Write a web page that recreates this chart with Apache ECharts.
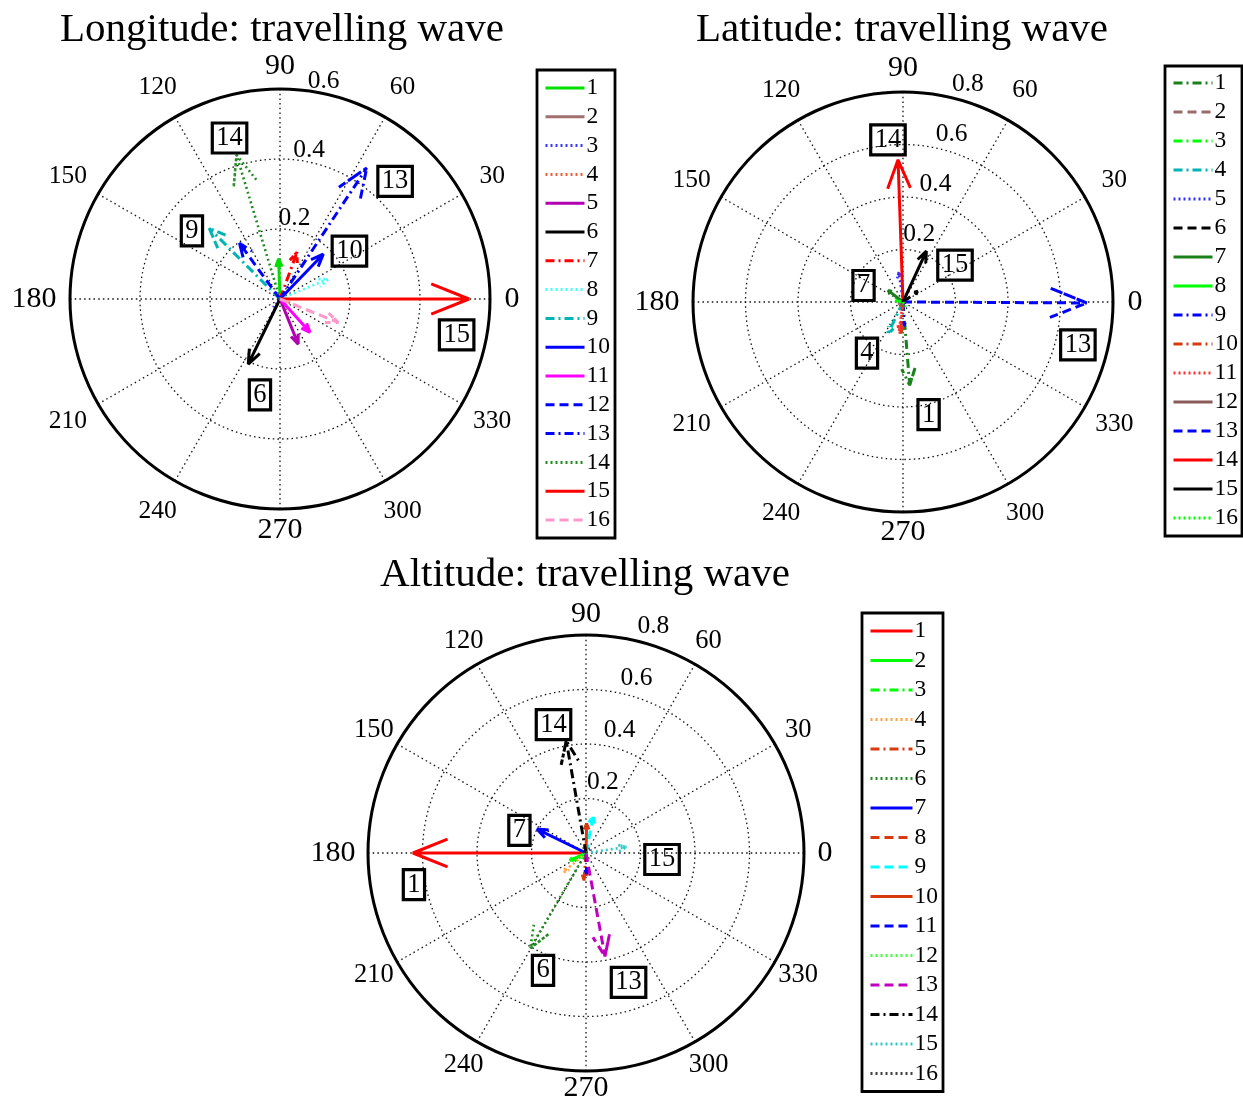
<!DOCTYPE html>
<html>
<head>
<meta charset="utf-8">
<script src="https://cdn.jsdelivr.net/npm/echarts@6/dist/echarts.min.js"></script>
<style>html,body{margin:0;padding:0;background:#fff}#c{width:1243px;height:1099px}</style>
</head>
<body>
<div id="c"></div>
<script>
// ---------- data ----------
const seriesLabels = ['1','2','3','4','5','6','7','8','9','10','11','12','13','14','15','16'];
const angleTicks = [0, 30, 60, 90, 120, 150, 180, 210, 240, 270, 300, 330];

// Longitude: magnitude and phase angle (deg)
const lonMag = [0.115, 0.02, 0.03, 0.03, 0.139, 0.207, 0.142, 0.149, 0.286, 0.178, 0.128, 0.197, 0.449, 0.43, 0.54, 0.18];
const lonAng = [92, 120, 232, 340, 292, 244, 70, 22.5, 135, 46, 312, 126, 56.5, 106.8, 0, 338];

// Latitude
const latMag = [0.318, 0.02, 0.04, 0.134, 0.115, 0.07, 0.072, 0.03, 0.092, 0.12, 0.11, 0.02, 0.70, 0.542, 0.213, 0.02];
const latAng = [274.6, 200, 150, 244.7, 98, 35.5, 142, 170, 272, 265, 262, 240, 359.7, 92, 65.3, 300];

// Altitude
const altMag = [0.635, 0.065, 0.05, 0.109, 0.1, 0.405, 0.2, 0.08, 0.14, 0.108, 0.076, 0.03, 0.386, 0.418, 0.15, 0.02];
const altAng = [180, 204.5, 215, 220, 266, 239.7, 154, 272, 79, 88.7, 272, 230, 280.4, 100, 8.4, 45];

// boxed annotations: series label, radius, angle
const lonNotes = [['14', 0.482, 107.4], ['13', 0.470, 45.6], ['9', 0.318, 142.3], ['10', 0.241, 34.6], ['15', 0.515, 348.5], ['6', 0.280, 258.2]];
const latNotes = [['14', 0.62, 95.3], ['15', 0.243, 35.4], ['7', 0.163, 157.3], ['4', 0.238, 234.8], ['13', 0.686, 346.2], ['1', 0.44, 282.8]];
const altNotes = [['14', 0.486, 104.2], ['7', 0.258, 161.3], ['15', 0.28, 355.1], ['1', 0.642, 190.4], ['6', 0.459, 249.9], ['13', 0.50, 288.2]];

// radial tick labels
const lonRTicks = [0.2, 0.4, 0.6];
const latRTicks = [0.2, 0.4, 0.6, 0.8];
const altRTicks = [0.2, 0.4, 0.6, 0.8];

const titles = ['Longitude: travelling wave', 'Latitude: travelling wave', 'Altitude: travelling wave'];

// ---------- styles ----------
const lonColors = ['#00e000','#a07070','#3a3aff','#e8603c','#b000b0','#000000','#ff0000','#40ffff','#00b4b4','#0000ff','#ff00ff','#0000ff','#0000ff','#228b22','#ff0000','#ff99cc'];
const lonDash   = ['solid','solid','dotted','dotted','solid','solid','dashdot','dotted','dashdot','solid','solid','dashed','dashdot','dotted','solid','dashed'];
const latColors = ['#1a801a','#9a6b6b','#00ff00','#00b4b4','#3030ff','#000000','#1a801a','#00ff00','#0000ff','#d83a10','#ff3030','#8b5a5a','#0000ff','#ff0000','#000000','#00ff00'];
const latDash   = ['dashdot','dashed','dashdot','dashdot','dotted','dashed','solid','solid','dashdot','dashdot','dotted','solid','dashed','solid','solid','dotted'];
const altColors = ['#ff0000','#00ff00','#00ff00','#ffa040','#d83a10','#228b22','#0000ff','#d83a10','#00ffff','#d83a10','#0000ff','#40ff40','#c000c0','#000000','#30c8c8','#404040'];
const altDash   = ['solid','solid','dashdot','dotted','dashdot','dotted','solid','dashed','dashed','solid','dashed','dotted','dashed','dashdot','dotted','dotted'];

const FONT = "'Liberation Serif', 'DejaVu Serif', serif";
const dashMap = { solid: 'solid', dashed: [9, 5], dotted: [2, 3], dashdot: [9, 4, 2, 4] };
const gridDots = { color: '#111', width: 1.3, type: [1.5, 3.2] };

// MATLAB compass-style arrow: shaft + head at 0.8 along, +/-0.08 across (in data units)
function arrowData(m, a) {
  const hr = Math.hypot(0.8, 0.08) * m;
  const da = Math.atan2(0.08, 0.8) * 180 / Math.PI;
  const n = x => ((x % 360) + 360) % 360;
  return [[0, n(a)], [m, n(a)], [hr, n(a + da)], [m, n(a)], [hr, n(a - da)]];
}

const panels = [
  { key: 'lon', mag: lonMag, ang: lonAng, colors: lonColors, dash: lonDash, notes: lonNotes, rticks: lonRTicks, rmax: 0.6,
    center: [280, 299], radius: 210, tickAng: 78, tickDist: -1, gapMinor: 35, gapCard: { 0: 22, 90: 23, 180: 36, 270: 21 }, minorSize: 25.5,
    legend: { left: 537, top: 70, itemWidth: 39, itemGap: 4.8, padding: [6, 5, 6, 7] } },
  { key: 'lat', mag: latMag, ang: latAng, colors: latColors, dash: latDash, notes: latNotes, rticks: latRTicks, rmax: 0.8,
    center: [903, 302], radius: 210, tickAng: 72, tickDist: 5, gapMinor: 34, gapCard: { 0: 22, 90: 24, 180: 36, 270: 20 }, minorSize: 25.5,
    legend: { left: 1165, top: 66, itemWidth: 39, itemGap: 5.0, padding: [5, 4, 6, 7] } },
  { key: 'alt', mag: altMag, ang: altAng, colors: altColors, dash: altDash, notes: altNotes, rticks: altRTicks, rmax: 0.8,
    center: [586, 853], radius: 218, tickAng: 72, tickDist: 6, gapMinor: 27, gapCard: { 0: 21, 90: 21, 180: 35, 270: 17 }, minorSize: 26.5,
    legend: { left: 862, top: 613, itemWidth: 42, itemGap: 5.5, padding: [6, 5, 6, 7] } }
];
const titlePos = [[282, 10], [902, 10], [585, 555]];

const option = {
  backgroundColor: '#fff',
  animation: false,
  title: titles.map((t, i) => ({
    text: t, left: titlePos[i][0], top: titlePos[i][1], textAlign: 'center', padding: 0,
    textStyle: { fontFamily: FONT, fontSize: 41, fontWeight: 'normal', color: '#000' }
  })),
  polar: panels.map(p => ({ center: p.center, radius: [0, p.radius] })),
  angleAxis: panels.map((p, i) => ({
    polarIndex: i, type: 'value', min: 0, max: 360, interval: 30, startAngle: 0, clockwise: false,
    axisLine: { show: true, lineStyle: { color: '#000', width: 3 } },
    axisTick: { show: false },
    axisLabel: { show: false },
    splitLine: { show: true, lineStyle: gridDots }
  })),
  radiusAxis: panels.map((p, i) => ({
    polarIndex: i, type: 'value', min: 0, max: p.rmax, interval: 0.2,
    axisLine: { show: false }, axisTick: { show: false }, axisLabel: { show: false },
    splitLine: { show: true, lineStyle: gridDots }
  })),
  legend: panels.map(p => ({
    orient: 'vertical', left: p.legend.left, top: p.legend.top,
    data: seriesLabels.map(s => p.key + '|' + s),
    formatter: n => n.split('|')[1],
    itemWidth: p.legend.itemWidth, itemHeight: 14, itemGap: p.legend.itemGap,
    padding: p.legend.padding,
    borderColor: '#000', borderWidth: 2.8, backgroundColor: '#fff',
    selectedMode: false,
    itemStyle: { opacity: 0 },
    lineStyle: { width: 3 },
    textStyle: { fontFamily: FONT, fontSize: 23.5, color: '#000', padding: [0, 0, 0, -3] }
  })),
  series: []
};

panels.forEach((p, pi) => {
  const pxToData = px => px / p.radius * p.rmax;
  // angular tick labels (centered, just outside the rim)
  option.series.push({
    type: 'scatter', coordinateSystem: 'polar', polarIndex: pi, silent: true, z: 3, clip: false,
    symbolSize: 1, itemStyle: { color: 'rgba(0,0,0,0)', opacity: 1 },
    data: angleTicks.map(a => {
      const card = a % 90 === 0;
      const gap = card ? p.gapCard[a] : p.gapMinor;
      return { value: [p.rmax + pxToData(gap), a], name: String(a),
        label: { fontSize: card ? 30 : p.minorSize } };
    }),
    label: { show: true, position: 'inside', formatter: '{b}', color: '#000', fontFamily: FONT }
  });
  // radial tick labels
  option.series.push({
    type: 'scatter', coordinateSystem: 'polar', polarIndex: pi, silent: true, z: 3, clip: false,
    symbolSize: 1, itemStyle: { color: 'rgba(0,0,0,0)', opacity: 1 },
    data: p.rticks.map(v => ({ value: [v, p.tickAng], name: v.toFixed(1) })),
    label: { show: true, position: 'top', distance: p.tickDist, formatter: '{b}',
      color: '#000', fontFamily: FONT, fontSize: 25.5, lineHeight: 25 }
  });
  // arrows
  seriesLabels.forEach((s, k) => {
    option.series.push({
      type: 'line', name: p.key + '|' + s, coordinateSystem: 'polar', polarIndex: pi,
      data: arrowData(p.mag[k], p.ang[k]),
      showSymbol: false, symbol: 'none', silent: true, clip: false, z: 4,
      color: p.colors[k],
      lineStyle: { color: p.colors[k], width: p.dash[k] === 'dotted' ? 2.6 : 3, type: dashMap[p.dash[k]] }
    });
  });
  // boxed labels
  option.series.push({
    type: 'scatter', coordinateSystem: 'polar', polarIndex: pi, silent: true, z: 6, clip: false,
    symbolSize: 1, itemStyle: { color: 'rgba(0,0,0,0)', opacity: 1 },
    data: p.notes.map(n => ({ value: [n[1], n[2]], name: n[0] })),
    label: { show: true, position: 'inside', formatter: '{b}', color: '#000',
      fontFamily: FONT, fontSize: 26.5, lineHeight: 27,
      borderColor: '#000', borderWidth: 3.2, padding: [2, 4, 1, 4] }
  });
});

const chart = echarts.init(document.getElementById('c'), null, { renderer: 'canvas' });
chart.setOption(option);
</script>
</body>
</html>
